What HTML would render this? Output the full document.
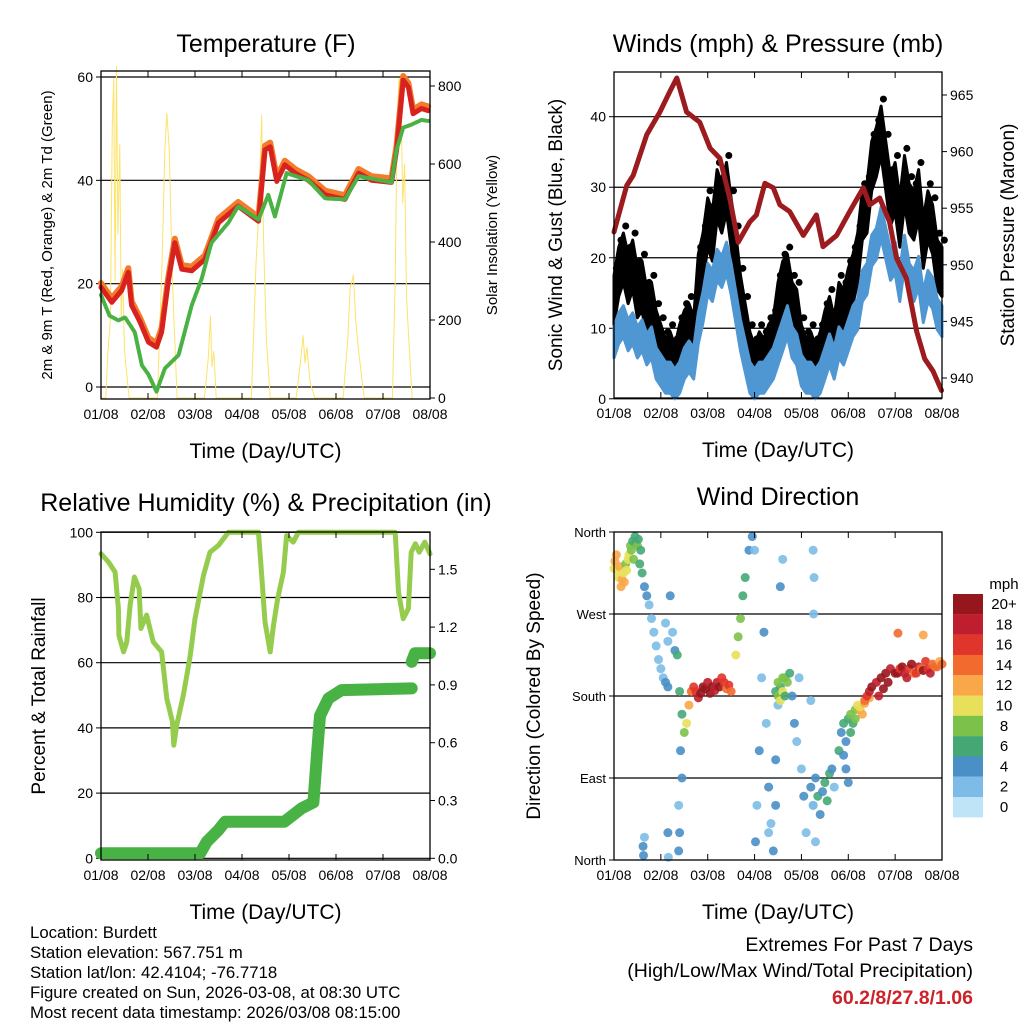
<!DOCTYPE html>
<html><head><meta charset="utf-8"><style>
body{margin:0;background:#fff;}
svg{display:block;font-family:"Liberation Sans",Arial,sans-serif;}
</style></head><body>
<svg id="s" width="1024" height="1024" viewBox="0 0 1024 1024" xmlns="http://www.w3.org/2000/svg"></svg>
<script>
// ---------- DATA ----------
const dayTicks=["01/08","02/08","03/08","04/08","05/08","06/08","07/08","08/08"];
// Temperature panel
const tempDays=[0,0.23,0.44,0.58,0.65,0.83,1.01,1.18,1.29,1.43,1.57,1.72,1.93,2.21,2.5,2.92,3.35,3.49,3.6,3.74,3.91,4.13,4.41,4.77,5.19,5.48,5.76,6.18,6.29,6.43,6.54,6.64,6.82,6.96];
const tempVals=[19.3,16.4,18.7,22.2,15.8,12.6,8.7,7.7,10.6,20.3,27.9,22.8,22.5,24.7,31.8,35,32.1,45.9,46.5,39.8,43,41.4,40,37.2,36.3,41.4,40,39.6,45.9,59.4,58,52.9,53.9,53.5];
const dewDays=[0,0.18,0.37,0.51,0.72,0.87,1.01,1.18,1.36,1.65,1.93,2.14,2.35,2.71,2.92,3.35,3.56,3.7,3.95,4.41,4.77,5.19,5.48,6.18,6.29,6.43,6.61,6.82,6.96];
const dewVals=[17.8,13.8,12.9,13.5,10.6,4.2,2.4,-0.9,3.6,6.2,15.8,20.9,27.9,31.8,35,32.4,37.2,33,41.4,40,36.5,36.3,40.8,39.6,45.9,50.2,50.8,51.7,51.5];
const solarDays=[0,0.1,0.15,0.2,0.24,0.27,0.3,0.33,0.36,0.4,0.43,0.46,0.5,0.55,0.6,1.2,1.3,1.36,1.4,1.45,1.52,1.62,2.2,2.28,2.33,2.36,2.4,2.45,3.2,3.3,3.36,3.42,3.46,3.52,3.6,4.15,4.25,4.3,4.34,4.38,4.45,4.55,5.15,5.25,5.3,5.37,5.42,5.48,5.6,6.2,6.26,6.3,6.34,6.38,6.42,6.46,6.5,6.55,6.62];
const solarVals=[0,0,120,200,700,820,300,850,420,650,200,330,120,60,0,0,350,640,730,640,300,0,0,100,210,80,120,0,0,350,480,725,400,150,0,0,100,160,90,130,40,0,0,150,280,315,200,120,0,0,300,700,820,790,500,600,260,150,0];
// Wind panel (step 0.1 day)
const gustVals=[14,18,20,17,19,15,16,12,13,9, 7,5,6,4,7,9,10,8,17,20, 25,23,29,27,30,25,20,14,10,6, 4,6,5,7,8,13,16,17,13,12, 7,5,6,4,6,9,11,8,13,12, 15,17,20,26,27,33,35,38,33,28, 30,25,31,27,26,29,22,26,24,19, 18];
const windVals=[8,10,11,9,10,8,9,7,8,5, 4,3,3,2,3,5,6,5,10,13, 17,16,19,18,20,17,13,9,6,3, 2,3,3,4,5,7,9,11,8,7, 4,3,3,2,3,5,7,5,8,7, 9,11,12,16,17,21,22,25,22,19, 20,16,21,17,16,18,13,16,15,12, 11];
const presDays=[0,0.27,0.41,0.7,0.98,1.19,1.34,1.55,1.83,2.05,2.26,2.47,2.65,2.9,3.04,3.22,3.4,3.54,3.75,4.04,4.32,4.46,4.75,5.03,5.32,5.46,5.67,5.88,6.03,6.24,6.46,6.63,6.81,6.99];
const presVals=[952.9,957,957.9,961.5,963.5,965.3,966.5,963.5,962.6,960.3,959.4,955.9,952,953.8,954.4,957.2,956.8,955.3,954.7,952.6,954.4,951.6,952.6,954.7,956.8,955.3,955.9,953.8,950.6,948.8,944.1,941.7,940.6,938.9];
// RH / precip
const rhDays=[0,0.16,0.3,0.37,0.38,0.48,0.55,0.62,0.71,0.81,0.85,0.97,1.11,1.29,1.4,1.52,1.55,1.61,1.75,1.89,2,2.18,2.32,2.5,2.71,3.35,3.42,3.49,3.6,3.67,3.76,3.88,3.95,4.09,4.2,6.26,6.33,6.43,6.54,6.6,6.69,6.77,6.89,7.0];
const rhVals=[93.4,90.9,87.8,76.6,68.4,63.3,66.4,77.6,86.3,82.7,70.5,74.6,66.4,63.3,49,41.9,34.7,40.8,50,61.3,73.5,86.8,93.9,96,100,100,86.8,72.5,63.3,71.5,79.7,87.8,99,97,100,100,81.7,73.5,76.6,93.9,96.5,93.9,97,93.4];
const rainDays=[0,2.11,2.25,2.5,2.64,3.9,4.27,4.52,4.59,4.66,4.84,5.12,6.61];
const rainVals=[0.026,0.026,0.086,0.147,0.19,0.19,0.26,0.29,0.52,0.74,0.83,0.873,0.882];
const rain2Days=[6.61,6.68,7.0];
const rain2Vals=[1.02,1.064,1.064];
// Wind direction
const dirDays=[
0,0.02,0.05,0.07,0.1,0.12,0.15,0.17,0.2,0.22,
0.25,0.27,0.3,0.32,0.35,0.37,0.4,0.42,0.45,0.47,
0.5,0.52,0.55,0.57,0.6,0.65,0.7,0.75,0.8,0.85,
0.9,0.95,1,1.05,1.1,1.15,0.62,0.63,0.65,1.1,
1.15,1.2,1.25,1.3,1.16,1.15,1.35,1.4,1.45,1.5,
1.55,1.6,1.65,1.7,1.75,1.8,1.85,1.9,1.95,2,
2.05,2.1,2.15,2.2,2.25,2.3,2.35,2.4,2.45,2.5,
2.6,2.65,2.7,2.75,2.8,2.88,2.95,1.42,1.45,1.38,
1.4,1.38,3,3.02,3.05,3.1,3.15,3.2,3.25,3.3,
3.35,3.4,3.45,3.5,3.55,3.6,3.3,3.45,3.45,3.5,
3.55,3.6,3.65,3.7,3.75,3.8,3.85,3.9,4,4.05,
4.1,3.95,4.2,4.25,4.3,3.5,3.55,3.6,3.65,4.2,
4.25,4.3,4.35,4.4,4.45,4.5,4.55,4.6,4.65,4.7,
4.25,4.27,4.26,4.8,4.85,4.9,4.95,5,5.05,5.1,
5.15,5.2,5.25,5.3,4.9,4.95,5,5.05,5.15,5.25,
5.35,5.45,5.35,5.4,5.45,5.5,5.6,5.65,5.7,5.75,
5.8,5.85,5.9,6,6.05,6.1,6.15,6.2,6.25,6.3,
6.35,6.4,6.45,6.5,6.55,6.6,6.65,6.7,6.75,6.8,
6.85,6.9,6.95,7,6.06,6.6];
const dirVals=[
320,328,335,318,310,322,300,308,315,305,
325,318,330,335,345,340,350,330,355,348,
345,352,325,340,315,300,290,280,265,250,
235,220,210,200,195,190,15,5,25,260,
240,290,250,230,3,30,225,185,160,140,
150,170,185,190,185,178,183,190,188,195,
183,190,186,195,190,200,195,188,192,185,
225,245,265,290,310,340,355,120,90,60,
30,10,340,20,60,120,200,250,150,80,
40,10,110,170,300,330,30,60,185,180,
190,185,200,195,205,180,150,130,100,70,
30,200,175,60,20,195,175,200,180,80,
60,90,70,50,75,85,65,95,100,80,
340,310,270,120,140,150,130,155,160,150,
165,170,165,160,115,100,85,140,155,168,
172,178,175,180,185,190,195,180,200,188,
205,195,210,205,205,210,212,205,200,210,
215,205,205,212,210,208,218,210,205,215,
212,212,218,215,249,247];
const dirSpeeds=[
10,12,12,10,11,12,12,13,10,12,
9,11,10,10,8,8,6,9,7,6,
8,6,7,6,6,5,4,3,2,3,
2,2,3,3,4,4,4,4,3,2,
2,4,2,4,2,4,6,6,6,8,
10,12,14,16,16,18,20,20,20,18,
20,20,18,18,20,16,16,14,16,14,
10,8,8,6,6,5,4,4,4,2,
4,4,2,4,2,4,2,4,2,4,
2,4,4,2,4,2,2,4,6,8,
6,10,8,8,6,4,4,2,2,4,
2,2,2,2,2,8,10,8,6,4,
2,4,6,4,4,6,6,6,4,2,
2,2,2,6,4,6,4,6,8,6,
8,10,12,12,4,4,4,6,8,10,
12,12,14,16,18,20,18,18,20,20,
20,20,18,20,20,16,20,18,18,16,
20,14,16,18,14,20,16,16,18,14,
14,14,12,14,14,12];
const cbLabels=["20+","18","16","14","12","10","8","6","4","2","0"];
const cbColors=["#95161c","#be1e2d","#e0352a","#f26a2e","#f9a748","#e8e05a","#7cc24a","#45a874","#4a8fc6","#7cbce6","#bfe3f7"];

// ---------- HELPERS ----------
const NS="http://www.w3.org/2000/svg";
const svg=document.getElementById('s');
function mk(tag,attrs,parent){const e=document.createElementNS(NS,tag);for(const k in attrs)e.setAttribute(k,attrs[k]);(parent||svg).appendChild(e);return e;}
function txt(x,y,s,size,anchor,parent,extra){const t=mk('text',Object.assign({x:x,y:y,'font-size':size,'text-anchor':anchor||'middle',fill:'#000'},extra||{}),parent);t.textContent=s;return t;}
function lin(d0,d1,r0,r1){return v=>r0+(v-d0)*(r1-r0)/(d1-d0);}
function poly(xs,ys,fx,fy,attrs,parent){const p=xs.map((d,i)=>fx(d).toFixed(1)+','+fy(ys[i]).toFixed(1)).join(' ');return mk('polyline',Object.assign({points:p,fill:'none','stroke-linejoin':'round','stroke-linecap':'round'},attrs),parent);}
function band(xs,ys,spread,fx,fy,attrs,parent){
  const up=xs.map((d,i)=>fx(d).toFixed(1)+','+fy(ys[i]+spread).toFixed(1));
  const dn=xs.map((d,i)=>fx(d).toFixed(1)+','+fy(Math.max(0,ys[i]-spread)).toFixed(1)).reverse();
  return mk('polygon',Object.assign({points:up.concat(dn).join(' '),'stroke-linejoin':'round'},attrs),parent);
}
function panel(name){
  const g=mk('g',{});
  
  
  return g;
}
function xAxis(g,L,R,B,T){
  const fx=lin(0,7,L,R);
  dayTicks.forEach((s,i)=>{const x=fx(i);
    mk('line',{x1:x,y1:B,x2:x,y2:B-6,stroke:'#000','stroke-width':1},g);
    mk('line',{x1:x,y1:T,x2:x,y2:T+6,stroke:'#000','stroke-width':1},g);
    const t=txt(x,B+20,s,14,'middle',g);
    
    
  });
  const xl=txt((L+R)/2,B+59,'Time (Day/UTC)',21,'middle',g);
  
  
  return fx;
}
function frame(g,L,R,T,B){mk('rect',{x:L,y:T,width:R-L,height:B-T,fill:'none',stroke:'#000','stroke-width':1.3},g);}
function yTicks(g,vals,fy,x,side,fmt,grid,L,R){
  vals.forEach(v=>{const y=fy(v);
    if(grid) mk('line',{x1:L,y1:y,x2:R,y2:y,stroke:'#000','stroke-width':1.2},g);
    mk('line',{x1:x,y1:y,x2:x+(side==='l'?-5:5),y2:y,stroke:'#000','stroke-width':1},g);
    const t=txt(side==='l'?x-8:x+8,y+5,fmt(v),14,side==='l'?'end':'start',g);
    
    
  });
}
function vTitle(g,x,y,s,size,name){const t=txt(x,y,s,size,'middle',g,{transform:'rotate(-90 '+x+' '+y+')'});return t;}
function title(g,x,y,s,name){const t=txt(x,y,s,25,'middle',g);}

// ---------- PANEL 1: Temperature ----------
(function(){
  const L=101,R=430,T=71,B=399;
  const g=panel('temperature-panel');
  const fx=lin(0,7,L,R);
  const fy=lin(0,60,387,77);
  const fs=lin(0,800,398,86);
  title(g,266,52,'Temperature (F)','temperature-title');
  yTicks(g,[0,20,40,60],fy,L,'l',v=>String(v),true,L,R);
  yTicks(g,[0,200,400,600,800],fs,R,'r',v=>String(v),false,L,R);
  const sl=poly(solarDays,solarVals,fx,fs,{stroke:'#fde36a','stroke-width':1},g);
  
  
  const o=poly(tempDays,tempVals.map(v=>v+0.8),fx,fy,{stroke:'#f47b2a','stroke-width':6},g);
  
  
  const r=poly(tempDays,tempVals,fx,fy,{stroke:'#d7221f','stroke-width':5},g);
  
  
  const d=poly(dewDays,dewVals,fx,fy,{stroke:'#4ab245','stroke-width':4,'stroke-dasharray':'3 1.5'},g);
  
  
  frame(g,L,R,T,B);
  xAxis(g,L,R,B,T);
  vTitle(g,52,235,'2m & 9m T (Red, Orange) & 2m Td (Green)',15,'left-y-axis-title');
  vTitle(g,497,235,'Solar Insolation (Yellow)',15,'right-y-axis-title');
})();

// ---------- PANEL 2: Winds & Pressure ----------
(function(){
  const L=614,R=942,T=72,B=398;
  const g=panel('winds-panel');
  const fx=lin(0,7,L,R);
  const fy=lin(0,40,398.8,116.7);
  const fp=lin(940,965,378,95);
  title(g,778,52,'Winds (mph) & Pressure (mb)','winds-title');
  yTicks(g,[0,10,20,30,40],fy,L,'l',v=>String(v),true,L,R);
  yTicks(g,[940,945,950,955,960,965],fp,R,'r',v=>String(v),false,L,R);
  const gd=gustVals.map((v,i)=>i*0.1);
  const gl=band(gd,gustVals,3.5,fx,fy,{fill:'#000',stroke:'#000','stroke-width':3},g);
  
  
  gustVals.forEach((v,i)=>{
    const c=mk('circle',{cx:fx(i*0.1+0.05),cy:fy(v+4.5),r:3.5,fill:'#000'},g);
    
    
  });
  const wl=band(gd,windVals,2.2,fx,fy,{fill:'#4f97d2',stroke:'#4f97d2','stroke-width':3},g);
  
  
  const pl=poly(presDays,presVals,fx,fp,{stroke:'#9b1b1f','stroke-width':5},g);
  
  
  frame(g,L,R,T,B);
  xAxis(g,L,R,B,T);
  vTitle(g,562,235,'Sonic Wind & Gust (Blue, Black)',19,'left-y-axis-title');
  vTitle(g,1014,235,'Station Pressure (Maroon)',19,'right-y-axis-title');
})();

// ---------- PANEL 3: RH & Precip ----------
(function(){
  const L=101,R=430,T=532,B=860;
  const g=panel('humidity-panel');
  const fx=lin(0,7,L,R);
  const fy=lin(0,100,858.3,532.3);
  const fr=lin(0,1.5,858.3,569.3);
  title(g,266,511,'Relative Humidity (%) & Precipitation (in)','humidity-title');
  yTicks(g,[0,20,40,60,80,100],fy,L,'l',v=>String(v),true,L,R);
  yTicks(g,[0,0.3,0.6,0.9,1.2,1.5],fr,R,'r',v=>v.toFixed(1),false,L,R);
  const rh=poly(rhDays,rhVals,fx,fy,{stroke:'#95cc4e','stroke-width':5},g);
  
  
  const p1=poly(rainDays,rainVals,fx,fr,{stroke:'#48b244','stroke-width':12},g);
  
  
  const p2=poly(rain2Days,rain2Vals,fx,fr,{stroke:'#48b244','stroke-width':12},g);
  
  
  frame(g,L,R,T,B);
  xAxis(g,L,R,B,T);
  vTitle(g,45,696,'Percent & Total Rainfall',19,'left-y-axis-title');
})();

// ---------- PANEL 4: Wind Direction ----------
(function(){
  const L=614,R=942,T=532,B=860;
  const g=panel('wind-direction-panel');
  const fx=lin(0,7,L,R);
  const fy=lin(0,360,860,532);
  title(g,778,505,'Wind Direction','wind-direction-title');
  const names=["North","East","South","West","North"];
  [0,90,180,270,360].forEach((v,i)=>{const y=fy(v);
    if(i>0&&i<4) mk('line',{x1:L,y1:y,x2:R,y2:y,stroke:'#000','stroke-width':1.2},g);
    mk('line',{x1:L,y1:y,x2:L-5,y2:y,stroke:'#000'},g);
    const t=txt(L-8,y+5,names[i],13,'end',g);
    
    
  });
  function col(s){let i=10-Math.min(10,Math.floor(s/2));return cbColors[i];}
  dirDays.forEach((d,i)=>{
    const c=mk('circle',{cx:fx(d),cy:fy(dirVals[i]),r:4.5,fill:col(dirSpeeds[i]),'fill-opacity':0.9},g);
    
    
  });
  frame(g,L,R,T,B);
  xAxis(g,L,R,B,T);
  vTitle(g,540,696,'Direction (Colored By Speed)',19,'left-y-axis-title');
  const cb=mk('g',{},g);
  
  
  const ct=txt(1004,589,'mph',15,'middle',cb);
  
  
  cbColors.forEach((c,i)=>{
    const r=mk('rect',{x:953,y:594+i*20.3,width:30,height:20.4,fill:c},cb);
    
    
    const t=txt(1004,609+i*20.3,cbLabels[i],15,'middle',cb);
    
    
  });
})();

// ---------- FOOTER TEXT ----------
const info=["Location: Burdett","Station elevation: 567.751 m","Station lat/lon: 42.4104; -76.7718","Figure created on Sun, 2026-03-08, at 08:30 UTC","Most recent data timestamp: 2026/03/08 08:15:00"];
info.forEach((s,i)=>{const t=txt(30,938+i*20,s,16.8,'start');
  
  });
const e1=txt(973,951,'Extremes For Past 7 Days',19.5,'end');


const e2=txt(973,977,'(High/Low/Max Wind/Total Precipitation)',19.5,'end');


const e3=txt(973,1004,'60.2/8/27.8/1.06',19.5,'end',null,{fill:'#cc2229','font-weight':'bold'});


</script>
</body></html>
